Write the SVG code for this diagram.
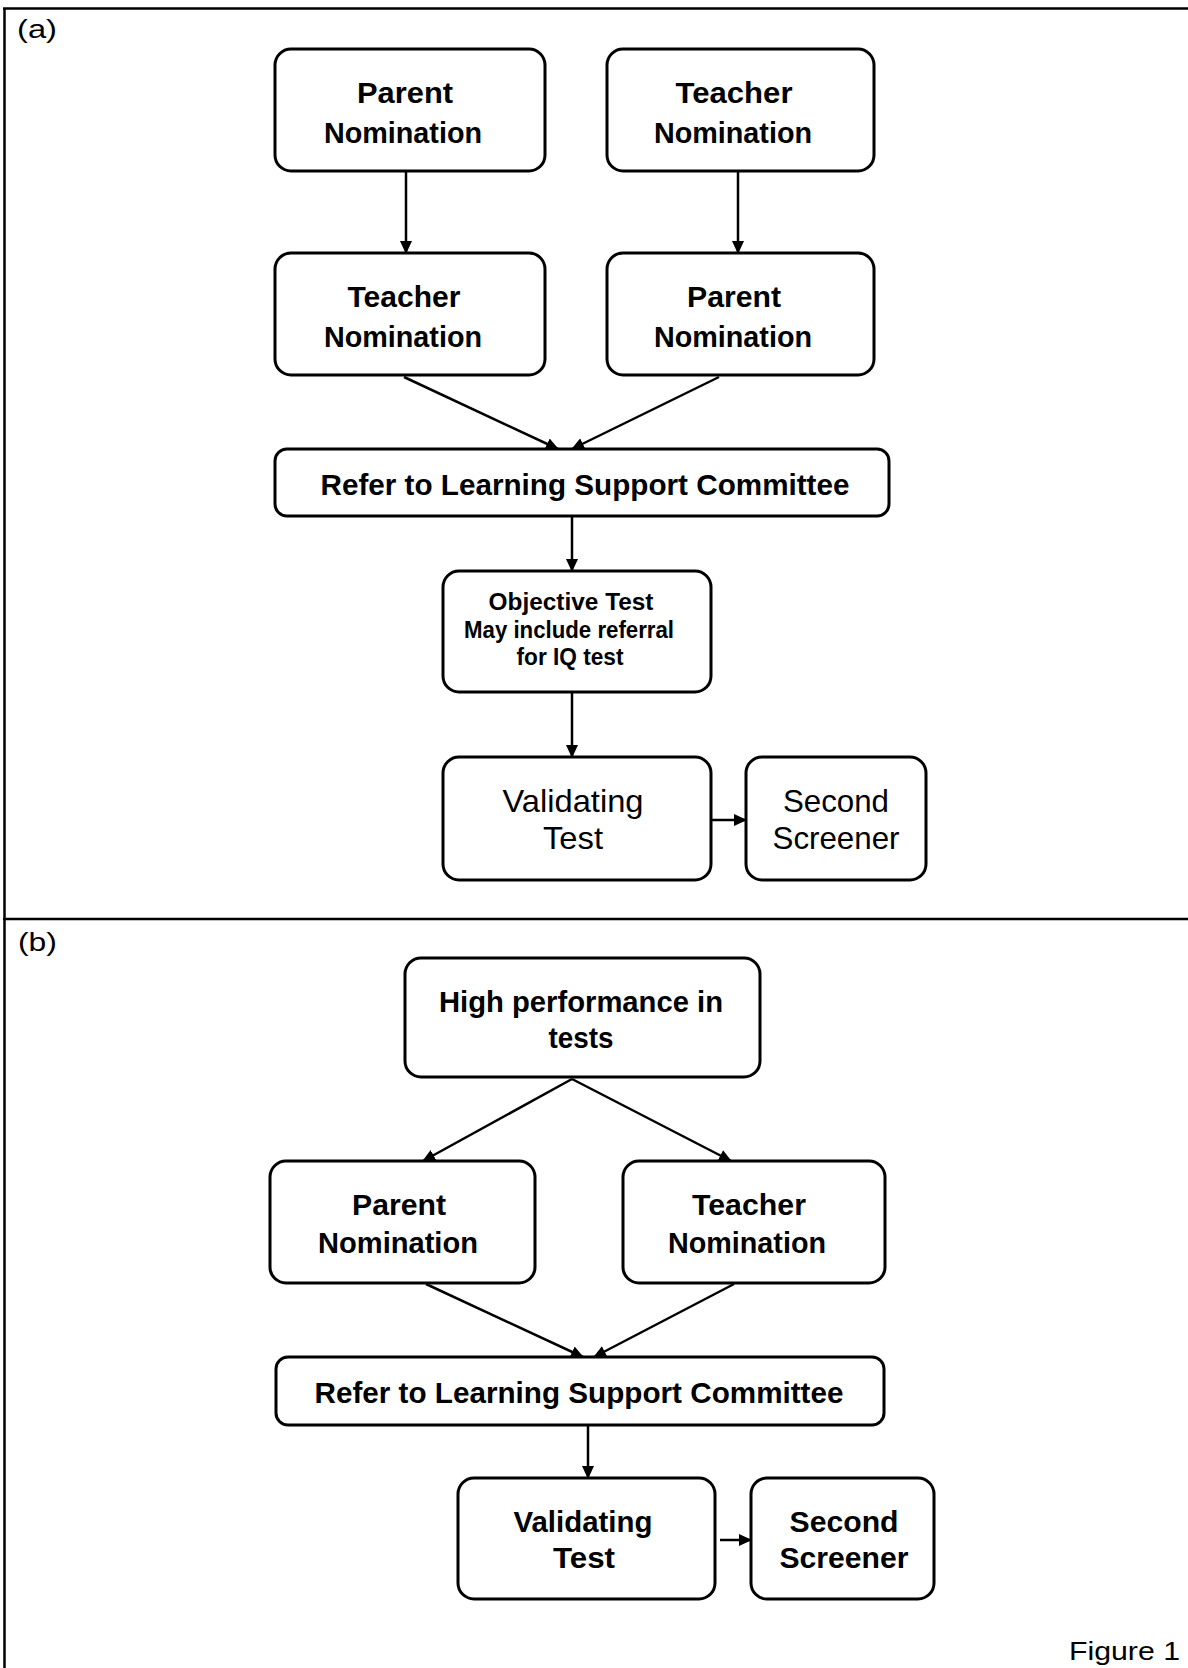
<svg xmlns="http://www.w3.org/2000/svg" width="1188" height="1668" viewBox="0 0 1188 1668">
<style>
.frame{stroke:#000;stroke-width:2.5;fill:none}
.box{fill:#fff;stroke:#000;stroke-width:3}
.conn{stroke:#000;stroke-width:2.5;fill:none;marker-end:url(#ah)}
.b{font-family:"Liberation Sans",Arial,sans-serif;font-weight:bold;font-size:30px;text-anchor:middle;fill:#000}
.s{font-family:"Liberation Sans",Arial,sans-serif;font-weight:bold;font-size:23px;text-anchor:middle;fill:#000}
.r{font-family:"Liberation Sans",Arial,sans-serif;font-size:32px;text-anchor:middle;fill:#000}
.lbl{font-family:"Liberation Sans",Arial,sans-serif;font-size:26px;fill:#000}
</style>
<defs>
<marker id="ah" markerUnits="userSpaceOnUse" markerWidth="13" markerHeight="12" refX="12" refY="6" orient="auto">
<path d="M0,0 L13,6 L0,12 z" fill="#000"/>
</marker>
</defs>
<rect width="1188" height="1668" fill="#fff"/>
<g id="frame">
<line class="frame" x1="3" y1="8.5" x2="1188" y2="8.5"/>
<line class="frame" x1="4.5" y1="8" x2="4.5" y2="1668"/>
<line class="frame" x1="3" y1="919" x2="1188" y2="919"/>
<text class="lbl" x="17" y="38" textLength="40" lengthAdjust="spacingAndGlyphs">(a)</text>
<text class="lbl" x="18" y="951" textLength="39" lengthAdjust="spacingAndGlyphs">(b)</text>
<text class="lbl" x="1069" y="1660" font-size="29" textLength="111" lengthAdjust="spacingAndGlyphs">Figure 1</text>
</g>
<g id="connectors">
<line class="conn" x1="406" y1="171" x2="406" y2="253"/>
<line class="conn" x1="738" y1="171" x2="738" y2="253"/>
<line class="conn" x1="404" y1="377" x2="558" y2="449"/>
<line class="conn" x1="719" y1="377" x2="572" y2="449"/>
<line class="conn" x1="572" y1="517" x2="572" y2="571"/>
<line class="conn" x1="572" y1="692" x2="572" y2="757"/>
<line class="conn" x1="711" y1="820" x2="746" y2="820"/>
<line class="conn" x1="572" y1="1079" x2="423" y2="1161"/>
<line class="conn" x1="572" y1="1079" x2="731" y2="1161"/>
<line class="conn" x1="426" y1="1284" x2="583" y2="1357"/>
<line class="conn" x1="734" y1="1284" x2="594" y2="1357"/>
<line class="conn" x1="588" y1="1426" x2="588" y2="1478"/>
<line class="conn" x1="720" y1="1540" x2="751" y2="1540"/>
</g>
<g id="a_parent_nomination">
<rect class="box" x="275" y="49" width="270" height="122" rx="16"/>
<text class="b" x="405" y="103" textLength="96" lengthAdjust="spacingAndGlyphs">Parent</text>
<text class="b" x="403" y="143" textLength="158" lengthAdjust="spacingAndGlyphs">Nomination</text>
</g>
<g id="a_teacher_nomination">
<rect class="box" x="607" y="49" width="267" height="122" rx="16"/>
<text class="b" x="734" y="103" textLength="117" lengthAdjust="spacingAndGlyphs">Teacher</text>
<text class="b" x="733" y="143" textLength="158" lengthAdjust="spacingAndGlyphs">Nomination</text>
</g>
<g id="a_teacher_nomination_2">
<rect class="box" x="275" y="253" width="270" height="122" rx="16"/>
<text class="b" x="404" y="307" textLength="113" lengthAdjust="spacingAndGlyphs">Teacher</text>
<text class="b" x="403" y="347" textLength="158" lengthAdjust="spacingAndGlyphs">Nomination</text>
</g>
<g id="a_parent_nomination_2">
<rect class="box" x="607" y="253" width="267" height="122" rx="16"/>
<text class="b" x="734" y="307" textLength="94" lengthAdjust="spacingAndGlyphs">Parent</text>
<text class="b" x="733" y="347" textLength="158" lengthAdjust="spacingAndGlyphs">Nomination</text>
</g>
<g id="a_refer">
<rect class="box" x="275" y="449" width="614" height="67" rx="12"/>
<text class="b" x="585" y="495" textLength="529" lengthAdjust="spacingAndGlyphs">Refer to Learning Support Committee</text>
</g>
<g id="a_objective_test">
<rect class="box" x="443" y="571" width="268" height="121" rx="16"/>
<text class="s" x="571" y="610" textLength="165" lengthAdjust="spacingAndGlyphs">Objective Test</text>
<text class="s" x="569" y="638" textLength="210" lengthAdjust="spacingAndGlyphs">May include referral</text>
<text class="s" x="570" y="665" textLength="107" lengthAdjust="spacingAndGlyphs">for IQ test</text>
</g>
<g id="a_validating_test">
<rect class="box" x="443" y="757" width="268" height="123" rx="16"/>
<text class="r" x="573" y="812" textLength="141" lengthAdjust="spacingAndGlyphs">Validating</text>
<text class="r" x="573" y="849" textLength="60" lengthAdjust="spacingAndGlyphs">Test</text>
</g>
<g id="a_second_screener">
<rect class="box" x="746" y="757" width="180" height="123" rx="16"/>
<text class="r" x="836" y="812" textLength="106" lengthAdjust="spacingAndGlyphs">Second</text>
<text class="r" x="836" y="849" textLength="127" lengthAdjust="spacingAndGlyphs">Screener</text>
</g>
<g id="b_high_performance">
<rect class="box" x="405" y="958" width="355" height="119" rx="16"/>
<text class="b" x="581" y="1012" textLength="284" lengthAdjust="spacingAndGlyphs">High performance in</text>
<text class="b" x="581" y="1048" textLength="65" lengthAdjust="spacingAndGlyphs">tests</text>
</g>
<g id="b_parent_nomination">
<rect class="box" x="270" y="1161" width="265" height="122" rx="16"/>
<text class="b" x="399" y="1215" textLength="94" lengthAdjust="spacingAndGlyphs">Parent</text>
<text class="b" x="398" y="1253" textLength="160" lengthAdjust="spacingAndGlyphs">Nomination</text>
</g>
<g id="b_teacher_nomination">
<rect class="box" x="623" y="1161" width="262" height="122" rx="16"/>
<text class="b" x="749" y="1215" textLength="114" lengthAdjust="spacingAndGlyphs">Teacher</text>
<text class="b" x="747" y="1253" textLength="158" lengthAdjust="spacingAndGlyphs">Nomination</text>
</g>
<g id="b_refer">
<rect class="box" x="276" y="1357" width="608" height="68" rx="12"/>
<text class="b" x="579" y="1403" textLength="529" lengthAdjust="spacingAndGlyphs">Refer to Learning Support Committee</text>
</g>
<g id="b_validating_test">
<rect class="box" x="458" y="1478" width="257" height="121" rx="16"/>
<text class="b" x="583" y="1532" textLength="139" lengthAdjust="spacingAndGlyphs">Validating</text>
<text class="b" x="584" y="1568" textLength="62" lengthAdjust="spacingAndGlyphs">Test</text>
</g>
<g id="b_second_screener">
<rect class="box" x="751" y="1478" width="183" height="121" rx="16"/>
<text class="b" x="844" y="1532" textLength="109" lengthAdjust="spacingAndGlyphs">Second</text>
<text class="b" x="844" y="1568" textLength="129" lengthAdjust="spacingAndGlyphs">Screener</text>
</g>
</svg>
